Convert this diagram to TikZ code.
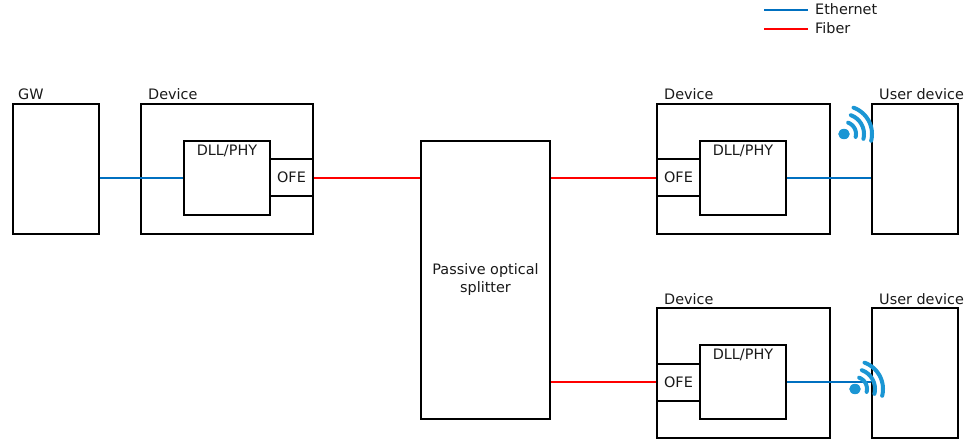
\documentclass[tikz,border=0pt]{standalone}
\usepackage{fontspec}
\setmainfont{DejaVu Sans}
\definecolor{ethblue}{RGB}{0,112,192}
\definecolor{fibred}{RGB}{255,0,0}
\definecolor{wifiblue}{RGB}{27,150,212}
\tikzset{
  boxnode/.style={draw=black,line width=1.6pt,fill=white,inner sep=0pt,minimum width=#1},
  txt/.style={font=\fontsize{14.4}{18}\selectfont,inner sep=0pt,text=black!90},
  lbl/.style={txt,anchor=base west},
  eth/.style={draw=ethblue,line width=1.5pt},
  fib/.style={draw=fibred,line width=1.7pt},
  wifi/.style={draw=wifiblue,line width=4pt,line cap=round}
}
\newcommand{\wifisym}[2]{%
  \fill[wifiblue] (#1,#2) ellipse [x radius=5.8pt,y radius=5.2pt];
  \foreach \r in {12,20,28}{
    \draw[wifi] plot[domain=-70:14,samples=24,smooth] ({#1+\r*cos(\x)},{#2+\r*sin(\x)});
  }}
\begin{document}
\begin{tikzpicture}[x=1pt,y=-1pt]
\useasboundingbox (0,0) rectangle (967,439);
% boxes
\node[boxnode=86pt,minimum height=130pt] (gw) at (56,169) {};
\node[boxnode=172pt,minimum height=130pt] (dev1) at (227,169) {};
\node[boxnode=86pt,minimum height=74pt] (dll1) at (227,178) {};
\node[boxnode=43pt,minimum height=37pt,txt] (ofe1) at (291.5,177.5) {OFE};
\node[boxnode=129pt,minimum height=278pt,align=center,txt] (split) at (485.5,280) {Passive optical\\splitter};
\node[boxnode=173pt,minimum height=130pt] (dev2) at (743.5,169) {};
\node[boxnode=86pt,minimum height=74pt] (dll2) at (743,178) {};
\node[boxnode=43pt,minimum height=37pt,txt] (ofe2) at (678.5,177.5) {OFE};
\node[boxnode=86pt,minimum height=130pt] (usr1) at (915,169) {};
\node[boxnode=173pt,minimum height=130pt] (dev3) at (743.5,373) {};
\node[boxnode=86pt,minimum height=74pt] (dll3) at (743,382) {};
\node[boxnode=43pt,minimum height=37pt,txt] (ofe3) at (678.5,382.5) {OFE};
\node[boxnode=86pt,minimum height=130pt] (usr2) at (915,373) {};
% connectors
\draw[eth] (gw.east |- dll1.west) -- (dll1.west);
\draw[fib] (ofe1.east |- dll1.east) -- (split.west |- dll1.east);
\draw[fib] (split.east |- dll2.west) -- (ofe2.west |- dll2.west);
\draw[fib] (split.east |- dll3.west) -- (ofe3.west |- dll3.west);
\draw[eth] (dll2.east) -- (dll2.east -| usr1.west);
\draw[eth] (dll3.east) -- (dll3.east -| usr2.west);
% labels
\node[lbl] (lgw) at (18,99) {GW};
\node[lbl] (ld1) at (148,99) {Device};
\node[lbl] (ld2) at (664,99) {Device};
\node[lbl] (ld3) at (664,304) {Device};
\node[lbl] (lu1) at (879,99) {User device};
\node[lbl] (lu2) at (879,304) {User device};
\node[txt,anchor=base] (lp1) at (227,155) {DLL/PHY};
\node[txt,anchor=base] (lp2) at (743,155) {DLL/PHY};
\node[txt,anchor=base] (lp3) at (743,359) {DLL/PHY};
% wifi
\wifisym{844}{134}
\wifisym{855}{389}
% legend
\coordinate (le1) at (764,10);
\coordinate (le2) at (808,10);
\coordinate (lf1) at (764,29);
\coordinate (lf2) at (808,29);
\draw[eth] (le1) -- (le2);
\draw[fib] (lf1) -- (lf2);
\node[lbl] (leth) at (815,15) {Ethernet};
\node[lbl] (lfib) at (815,34) {Fiber};
\end{tikzpicture}
\end{document}
